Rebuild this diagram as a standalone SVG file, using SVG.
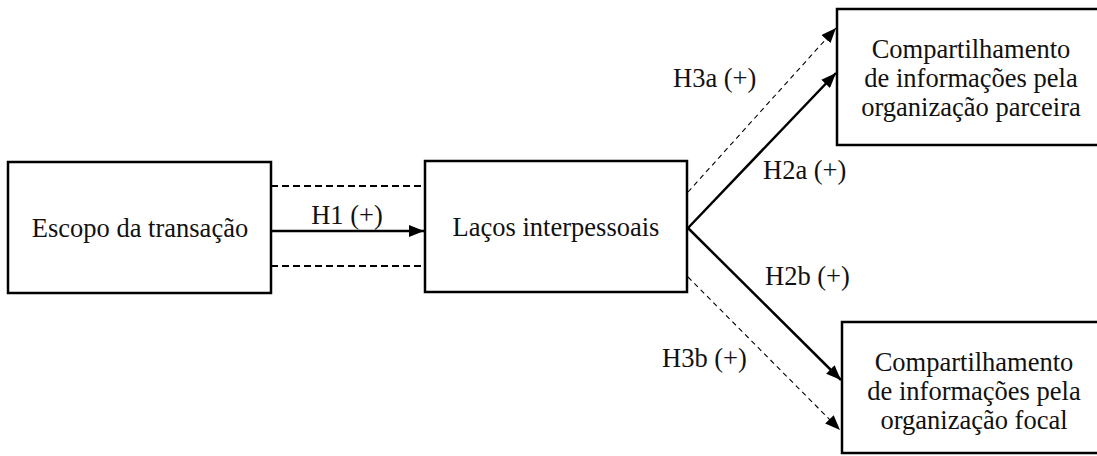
<svg xmlns="http://www.w3.org/2000/svg" width="1097" height="456" viewBox="0 0 1097 456">
  <style>
    .box { fill: #ffffff; stroke: #000000; stroke-width: 2.5; }
    .lbl { font-family: "Liberation Serif", "Times New Roman", serif; font-size: 26.5px; fill: #111111; }
    .mid { text-anchor: middle; }
    .solid { stroke: #000000; stroke-width: 2.5; fill: none; }
    .dash-h { stroke: #000000; stroke-width: 2; stroke-dasharray: 7 4; fill: none; }
    .dash-d { stroke: #000000; stroke-width: 1.1; stroke-dasharray: 5 4; fill: none; }
  </style>
  <defs>
    <marker id="arrow" markerUnits="userSpaceOnUse" markerWidth="16" markerHeight="12" refX="15" refY="6" orient="auto">
      <path d="M0,0 L15,6 L0,12 z" fill="#000000"/>
    </marker>
  </defs>

  <rect width="1097" height="456" fill="#ffffff"/>

  <!-- connectors -->
  <g id="connectors">
    <line class="dash-h" x1="271" y1="186" x2="425" y2="186"/>
    <line class="dash-h" x1="271" y1="266" x2="425" y2="266"/>
    <line class="solid" x1="271" y1="231" x2="424" y2="231" marker-end="url(#arrow)"/>
    <text class="lbl mid" x="347" y="224">H1 (+)</text>

    <line class="dash-d" x1="688" y1="192" x2="836" y2="28" marker-end="url(#arrow)"/>
    <text class="lbl" x="673" y="87">H3a (+)</text>

    <line class="solid" x1="688" y1="228" x2="836" y2="73" marker-end="url(#arrow)"/>
    <text class="lbl" x="763" y="179">H2a (+)</text>

    <line class="solid" x1="688" y1="228" x2="841" y2="380" marker-end="url(#arrow)"/>
    <text class="lbl" x="765" y="285">H2b (+)</text>

    <line class="dash-d" x1="688" y1="277" x2="840" y2="430" marker-end="url(#arrow)"/>
    <text class="lbl" x="662" y="367">H3b (+)</text>
  </g>

  <g id="escopo">
    <rect class="box" x="8" y="162" width="263" height="131"/>
    <text class="lbl mid" x="140" y="237">Escopo da transação</text>
  </g>

  <g id="lacos">
    <rect class="box" x="425" y="161" width="262" height="131"/>
    <text class="lbl mid" x="556" y="236">Laços interpessoais</text>
  </g>

  <g id="comp-parceira">
    <rect class="box" x="837" y="9" width="270" height="136"/>
    <text class="lbl mid" x="971" y="58">Compartilhamento</text>
    <text class="lbl mid" x="971" y="87">de informações pela</text>
    <text class="lbl mid" x="971" y="116">organização parceira</text>
  </g>

  <g id="comp-focal">
    <rect class="box" x="842" y="322" width="265" height="131"/>
    <text class="lbl mid" x="974" y="371">Compartilhamento</text>
    <text class="lbl mid" x="974" y="400">de informações pela</text>
    <text class="lbl mid" x="974" y="429">organização focal</text>
  </g>
</svg>
